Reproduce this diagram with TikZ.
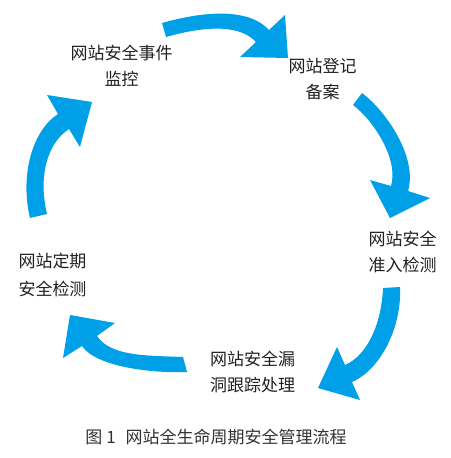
\documentclass[tikz,border=0pt]{standalone}
\usepackage{fontspec}
\newfontfamily\cjk{Noto Sans CJK SC}
\definecolor{arrowblue}{RGB}{0,160,233}
\definecolor{txt}{RGB}{35,31,32}
\definecolor{captxt}{RGB}{50,50,50}
\begin{document}
\begin{tikzpicture}[x=1pt,y=-1pt,
  arr/.style={fill=arrowblue,draw=none},
  lbl/.style={font=\cjk\fontsize{17}{26}\selectfont, text=txt, align=center, inner sep=0pt},
  captionstyle/.style={font=\cjk\fontsize{17}{20}\selectfont, text=captxt, inner sep=0pt}]
\useasboundingbox (0,0) rectangle (450,458);
% top arrow
\fill[arr] (162,23) .. controls (198.5,12.7) and (246.6,5.9) .. (269,30) -- (285,15) -- (288,58) -- (240,57) -- (256,42) .. controls (237,21.6) and (196.7,28.4) .. (166,37) -- cycle;
% right arrow
\fill[arr] (362,93) .. controls (386,111) and (418,157.4) .. (408,191) -- (430,198) -- (390,218) -- (370,180) -- (391,186) .. controls (399,159) and (373,120) .. (353,105) -- cycle;
% bottom-right arrow
\fill[arr] (400,287) .. controls (402,328) and (380,370) .. (352,382) -- (360,400) -- (318,388) -- (337,347) -- (345,365) .. controls (368,355) and (381.5,323) .. (383,288) -- cycle;
% bottom-left arrow
\fill[arr] (187,372) .. controls (152,373.5) and (96,366.8) .. (82,346) -- (63,358) -- (70,315) -- (115,323) -- (97,336) .. controls (111,356.8) and (148,355.5) .. (183,357) -- cycle;
% left arrow
\fill[arr] (30,218) .. controls (19.6,174.4) and (32.8,130.2) .. (58,114) -- (47,95) -- (92,102) -- (80,147) -- (69,129) .. controls (48,142.5) and (37.8,175.2) .. (47,214) -- cycle;
% labels
\node[lbl] (monitor) at (121.5,66) {网站安全事件\\监控};
\node[lbl] (register) at (322.5,79) {网站登记\\备案};
\node[lbl] (access) at (402.5,251.7) {网站安全\\准入检测};
\node[lbl, font=\cjk\fontsize{17}{28}\selectfont] (periodic) at (52.5,275) {网站定期\\安全检测};
\node[lbl] (vuln) at (252.5,371.7) {网站安全漏\\洞跟踪处理};
\node[captionstyle] (caption) at (216,436.7) {图\hspace{4pt}1\hspace{10pt}网站全生命周期安全管理流程};
\end{tikzpicture}
\end{document}
